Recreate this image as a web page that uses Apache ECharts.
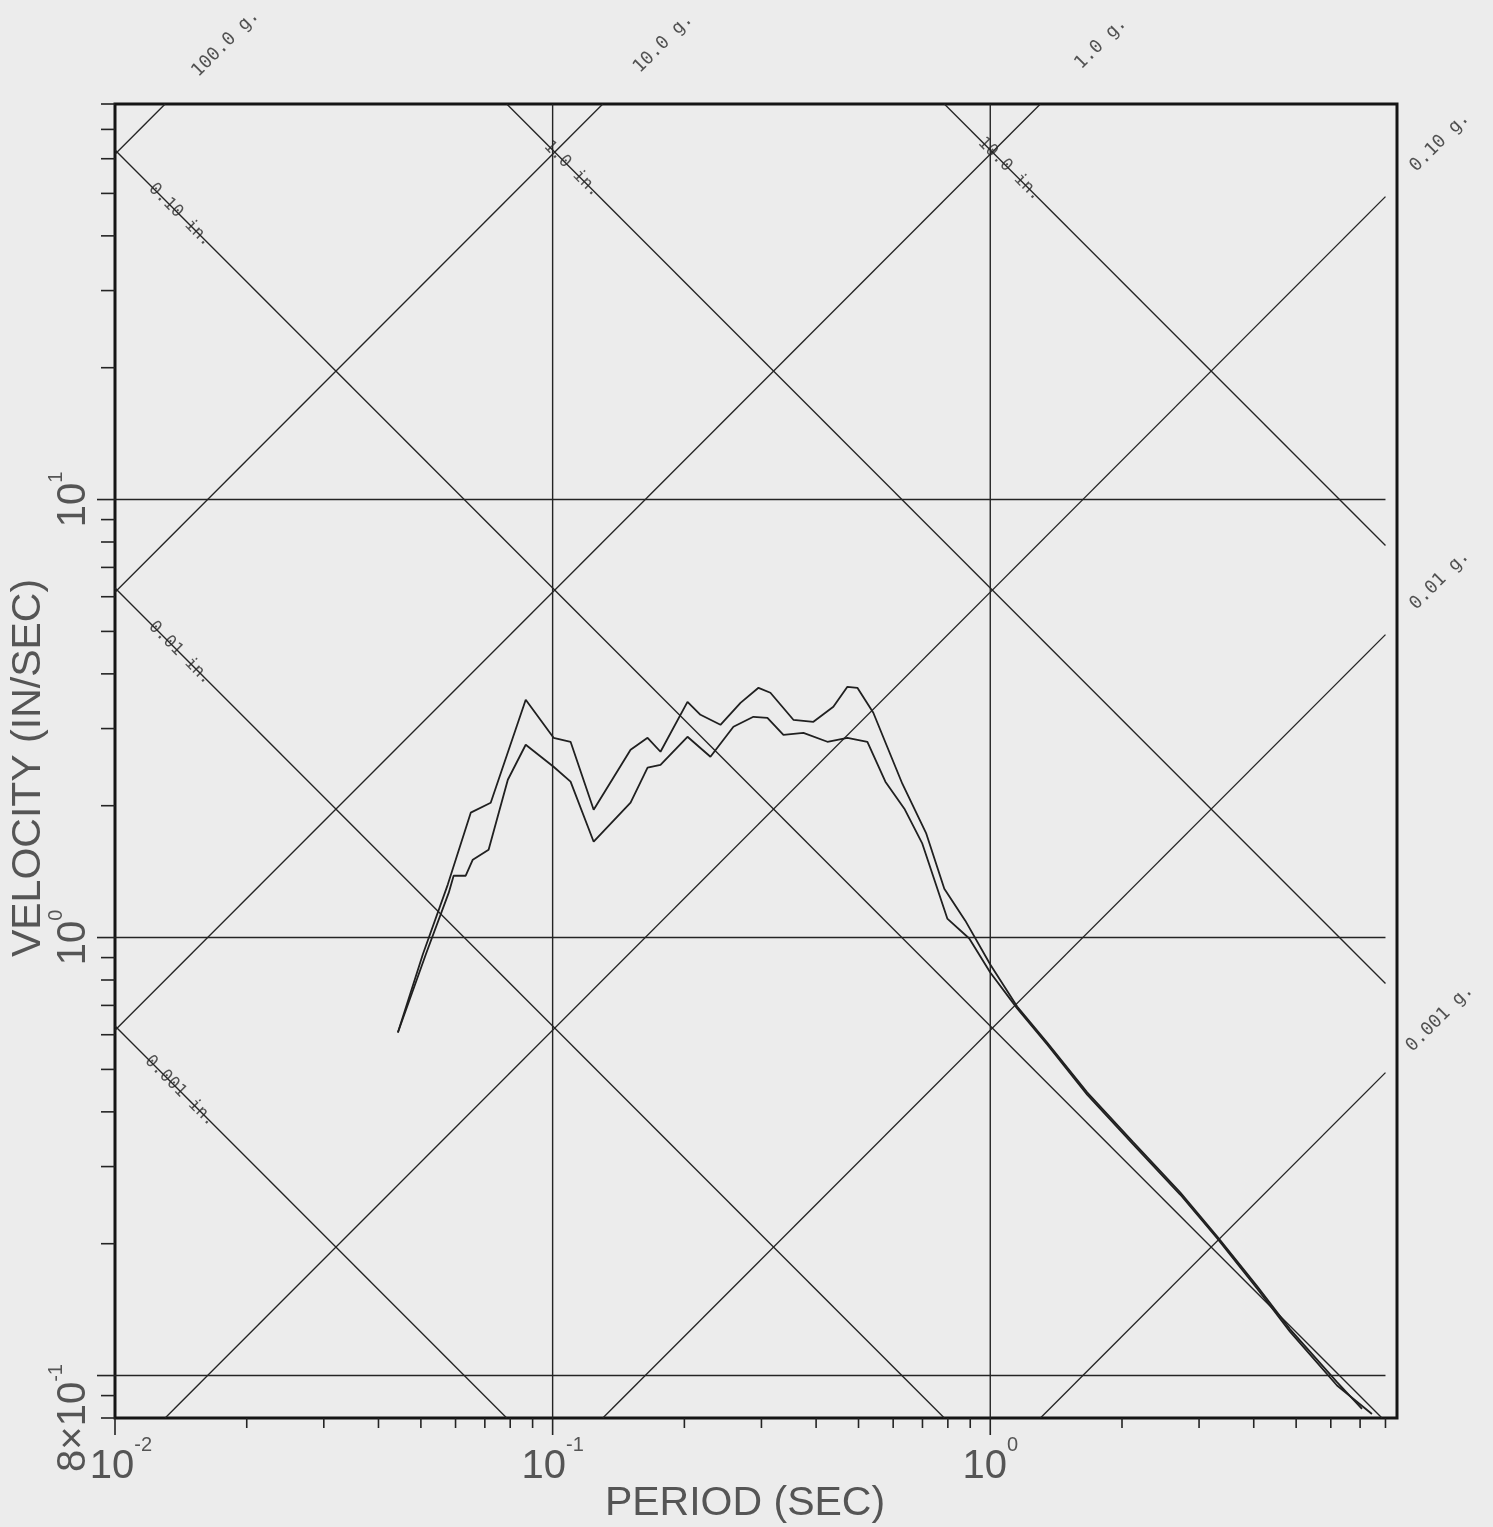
<!DOCTYPE html>
<html>
<head>
<meta charset="utf-8">
<script src="https://cdn.jsdelivr.net/npm/echarts@6/dist/echarts.min.js"></script>
<style>
html,body{margin:0;padding:0;background:#ececec;}
#chart{width:1493px;height:1527px;}
</style>
</head>
<body>
<div id="chart"></div>
<script>
// ---------------- data ----------------
const periodUpper = [0.0443,0.0505,0.0576,0.0650,0.0722,0.0868,0.1005,0.1099,0.1241,0.1507,0.1648,0.1764,0.2033,0.2177,0.2418,0.2687,0.2954,0.3145,0.3549,0.3944,0.4380,0.4716,0.4970,0.5405,0.5789,0.6296,0.7143,0.7852,0.8769,1.000,1.152,1.349,1.665,2.121,2.716,3.298,4.07,4.84,6.20,7.07];
const velocityUpper = [0.607,0.915,1.321,1.928,2.032,3.490,2.858,2.799,1.958,2.684,2.858,2.656,3.453,3.225,3.060,3.435,3.717,3.621,3.142,3.109,3.364,3.737,3.717,3.260,2.755,2.245,1.726,1.293,1.093,0.868,0.696,0.576,0.443,0.341,0.262,0.208,0.160,0.1277,0.0966,0.0839];

const periodLower = [0.0443,0.0513,0.0579,0.0594,0.0633,0.0657,0.0714,0.0790,0.0868,0.1005,0.1099,0.1241,0.1507,0.1648,0.1764,0.2033,0.2294,0.2589,0.2876,0.3096,0.3368,0.3742,0.4245,0.4716,0.5239,0.5759,0.6364,0.6995,0.7977,0.8954,1.000,1.152,1.349,1.665,2.121,2.716,3.298,4.07,4.84,6.20,7.45];
const velocityLower = [0.607,0.915,1.266,1.384,1.384,1.506,1.587,2.292,2.755,2.455,2.269,1.655,2.032,2.442,2.480,2.873,2.587,3.028,3.192,3.175,2.903,2.934,2.799,2.858,2.799,2.269,1.969,1.638,1.105,0.995,0.832,0.689,0.570,0.438,0.337,0.259,0.206,0.158,0.126,0.0949,0.0817];

// tripartite reference lines
const displacementValues = [0.001, 0.01, 0.1, 1, 10];            // inches
const displacementLabels = ['0.001 in.', '0.01 in.', '0.10 in.', '1.0 in.', '10.0 in.'];
const accelerationValues = [0.001, 0.01, 0.1, 1, 10, 100];       // g
const accelerationLabels = ['0.001 g.', '0.01 g.', '0.10 g.', '1.0 g.', '10.0 g.', '100.0 g.'];

// axes
const periodRange = [0.01, 8.5];
const periodLineEnd = 8;
const velocityRange = [0.08, 80];
const periodGrid = [0.1, 1];
const velocityGrid = [0.1, 1, 10];

const xMajorTicks = [0.01, 0.1, 1];
const xMinorTicks = [0.02,0.03,0.04,0.05,0.06,0.07,0.08,0.09,0.2,0.3,0.4,0.5,0.6,0.7,0.8,0.9,2,3,4,5,6,7,8];
const yMajorTicks = [0.1, 1, 10];
const yMinorTicks = [0.08,0.09,0.2,0.3,0.4,0.5,0.6,0.7,0.8,0.9,2,3,4,5,6,7,8,9,20,30,40,50,60,70,80];

const xLabelValues = [0.01, 0.1, 1];
const xLabelBase = ['10', '10', '10'];
const xLabelExp = ['-2', '-1', '0'];
const yLabelValues = [0.08, 1, 10];
const yLabelBase = ['8\u00d710', '10', '10'];
const yLabelExp = ['-1', '0', '1'];

const xTitle = 'PERIOD (SEC)';
const yTitle = 'VELOCITY (IN/SEC)';

// ---------------- construction ----------------
const TWO_PI = 2 * Math.PI;
const G_IN = 386.09;
const INK = '#242424';
const TEXT = '#555555';
const SANS = "'Liberation Sans', Arial, sans-serif";
const MONO = "'DejaVu Sans Mono', 'Liberation Mono', monospace";

function near(a, b) { return Math.abs(Math.log10(a) - Math.log10(b)) < 1e-4; }

const series = [];

function addLine(points, width, color, z) {
  series.push({
    type: 'line', data: points, symbol: 'none', silent: true, animation: false,
    lineStyle: { color: color || INK, width: width || 1.3 }, z: z || 2
  });
}

// grid lines
periodGrid.forEach(t => addLine([[t, velocityRange[0]], [t, velocityRange[1]]], 1.4));
velocityGrid.forEach(v => addLine([[periodRange[0], v], [periodLineEnd, v]], 1.4));

const labelItems = [];
// constant displacement lines  V = 2*pi*D/T
displacementValues.forEach((d, i) => {
  const c = TWO_PI * d;
  const t0 = Math.max(periodRange[0], c / velocityRange[1]);
  const t1 = Math.min(periodLineEnd, c / velocityRange[0]);
  if (t1 > t0) addLine([[t0, c / t0], [t1, c / t1]], 1.35);
  const tl = t0 * Math.pow(10, 65 / 437.5);
  labelItems.push({ name: displacementLabels[i], value: [tl, c / tl], label: { rotate: -45, fontSize: 17 } });
});
// constant acceleration lines  V = A*g*T/(2*pi)
accelerationValues.forEach((a, i) => {
  const k = a * G_IN / TWO_PI;
  const t0 = Math.max(periodRange[0], velocityRange[0] / k);
  const t1 = Math.min(periodLineEnd, velocityRange[1] / k);
  if (t1 > t0) addLine([[t0, k * t0], [t1, k * t1]], 1.35);
  let tl, vl;
  if (velocityRange[1] / k <= periodLineEnd) { vl = 110; tl = vl / k; }
  else { tl = 10.65; vl = k * tl; }
  labelItems.push({ name: accelerationLabels[i], value: [tl, vl], label: { rotate: 45, fontSize: 18 } });
});

// spectra curves
addLine(periodUpper.map((t, i) => [t, velocityUpper[i]]), 1.8, '#202020', 4);
addLine(periodLower.map((t, i) => [t, velocityLower[i]]), 1.8, '#202020', 4);

// line labels
series.push({
  type: 'scatter', data: labelItems, symbolSize: 1, clip: false, silent: true, animation: false,
  itemStyle: { color: 'rgba(0,0,0,0)' }, z: 6,
  label: { show: true, position: 'inside', formatter: '{b}', fontFamily: MONO, color: '#2a2a2a' }
});

// ticks
function tickSeries(values, dir, len) {
  series.push({
    type: 'custom', silent: true, clip: false, animation: false, z: 7,
    data: values.map(v => dir === 'x' ? [v, velocityRange[0]] : [periodRange[0], v]),
    renderItem: function (params, api) {
      const p = api.coord([api.value(0), api.value(1)]);
      const shape = dir === 'x'
        ? { x1: p[0], y1: p[1], x2: p[0], y2: p[1] + len }
        : { x1: p[0] - len, y1: p[1], x2: p[0], y2: p[1] };
      return { type: 'line', shape: shape, style: { stroke: INK, lineWidth: 1.6 } };
    }
  });
}
tickSeries(xMinorTicks, 'x', 10);
tickSeries(xMajorTicks, 'x', 17);
tickSeries(yMinorTicks, 'y', 14);
tickSeries(yMajorTicks, 'y', 18);

const xRich = {
  b: { fontSize: 40, fontFamily: SANS, color: TEXT, lineHeight: 64 },
  f: { fontSize: 40, fontFamily: SANS, color: TEXT, lineHeight: 64, padding: [0, 0, 0, 12] },
  s: { fontSize: 20, fontFamily: SANS, color: TEXT, verticalAlign: 'top', lineHeight: 26 }
};
const yRich = {
  b: { fontSize: 40, fontFamily: SANS, color: TEXT, lineHeight: 56 },
  f: { fontSize: 40, fontFamily: SANS, color: TEXT, lineHeight: 56 },
  s: { fontSize: 20, fontFamily: SANS, color: TEXT, verticalAlign: 'top', lineHeight: 24 }
};

function tickFormatter(values, bases, exps) {
  return function (v) {
    const i = values.findIndex(t => near(t, v));
    if (i < 0) return '';
    return '{' + (i === 0 ? 'f' : 'b') + '|' + bases[i] + '}{s|' + exps[i] + '}';
  };
}

const option = {
  backgroundColor: '#ececec',
  animation: false,
  grid: { left: 115, top: 104, width: 1282, height: 1314, show: true, borderColor: '#151515', borderWidth: 3,
          backgroundColor: 'transparent', containLabel: false, outerBoundsMode: 'none' },
  xAxis: {
    type: 'log', logBase: 10, min: periodRange[0], max: periodRange[1],
    axisLine: { show: false }, axisTick: { show: false }, splitLine: { show: false },
    axisLabel: {
      margin: 17, showMinLabel: true, showMaxLabel: false,
      formatter: tickFormatter(xLabelValues, xLabelBase, xLabelExp),
      rich: xRich
    },
    name: xTitle, nameLocation: 'middle', nameGap: 65, nameMoveOverlap: false,
    nameTextStyle: { fontFamily: SANS, fontSize: 41, color: TEXT, padding: [0, 22, 0, 0] }
  },
  yAxis: {
    type: 'log', logBase: 10, min: velocityRange[0], max: velocityRange[1],
    axisLine: { show: false }, axisTick: { show: false }, splitLine: { show: false },
    axisLabel: {
      margin: 13, rotate: 90, showMinLabel: true, showMaxLabel: false,
      formatter: tickFormatter(yLabelValues, yLabelBase, yLabelExp),
      rich: yRich
    },
    name: yTitle, nameLocation: 'middle', nameGap: 66, nameMoveOverlap: false,
    nameTextStyle: { fontFamily: SANS, fontSize: 41, color: TEXT, padding: [0, 14, 0, 0] }
  },
  series: series
};

const chart = echarts.init(document.getElementById('chart'), null, { renderer: 'canvas' });
chart.setOption(option);
</script>
</body>
</html>
